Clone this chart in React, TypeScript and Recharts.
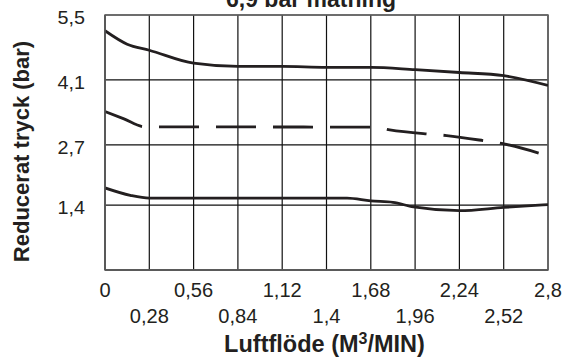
import { LineChart, Line, XAxis, YAxis, CartesianGrid, ReferenceArea } from "recharts";

const xTicks = [0, 0.28, 0.56, 0.84, 1.12, 1.4, 1.68, 1.96, 2.24, 2.52, 2.8];
const yTicks = [1.4, 2.7, 4.1, 5.5];

// upper curve (solid)
const upperFlow = [0, 0.14, 0.28, 0.56, 0.84, 1.12, 1.4, 1.68, 1.96, 2.24, 2.52, 2.8];
const upperPressure = [5.16, 4.87, 4.74, 4.46, 4.39, 4.39, 4.37, 4.37, 4.32, 4.26, 4.19, 3.98];

// middle curve (dashed)
const middleFlow = [0, 0.12, 0.25, 1.7, 1.8, 2.05, 2.16, 2.41, 2.52, 2.8];
const middlePressure = [3.42, 3.26, 3.09, 3.08, 3.02, 2.93, 2.9, 2.78, 2.72, 2.46];

// lower curve (solid)
const lowerFlow = [0, 0.16, 0.28, 1.53, 1.68, 1.82, 1.95, 2.24, 2.52, 2.8];
const lowerPressure = [1.77, 1.61, 1.55, 1.55, 1.49, 1.46, 1.36, 1.28, 1.35, 1.41];

const toRows = (xs: number[], ys: number[]) => xs.map((x, i) => ({ flow: x, p: ys[i] }));

const INK = "#231f20";
const FONT = "'Liberation Sans', Arial, Helvetica, sans-serif";
const fmt = (v: number) => String(v).replace(".", ",");

function XTick({ x, y, payload }: any) {
  const row = xTicks.indexOf(payload.value) % 2;
  return (
    <text
      transform={`translate(${x},${y + (row ? 53 : 27)}) scale(1.03,1)`}
      textAnchor="middle"
      fill={INK}
      fontSize={19.5}
      fontFamily={FONT}
    >
      {fmt(payload.value)}
    </text>
  );
}

function YTick({ x, y, payload }: any) {
  return (
    <text
      transform={`translate(${x},${y + 9}) scale(1.04,1)`}
      textAnchor="end"
      fill={INK}
      fontSize={19}
      fontFamily={FONT}
    >
      {fmt(payload.value)}
    </text>
  );
}

function XLabel({ viewBox }: any) {
  const cx = viewBox.x + viewBox.width / 2 - 2;
  return (
    <text x={cx} y={viewBox.y + 82} textAnchor="middle" fill={INK} fontSize={23.5} fontWeight="bold" fontFamily={FONT}>
      Luftflöde (M<tspan dy={-8} fontSize={16}>3</tspan>
      <tspan dy={8}>/MIN)</tspan>
    </text>
  );
}

function YLabel({ viewBox }: any) {
  const cx = viewBox.x + 29;
  const cy = viewBox.y + viewBox.height / 2 + 9;
  return (
    <text
      x={cx}
      y={cy}
      transform={`rotate(-90, ${cx}, ${cy})`}
      textAnchor="middle"
      fill={INK}
      fontSize={22}
      fontWeight="bold"
      fontFamily={FONT}
    >
      Reducerat tryck (bar)
    </text>
  );
}

export default function App() {
  return (
    <div style={{ position: "absolute", left: 0, top: 0, width: 568, height: 360, background: "#fff" }}>
      <LineChart width={568} height={360} margin={{ top: 15, right: 20, bottom: 0, left: 0 }}>
        <CartesianGrid stroke="#111" strokeWidth={1.2} />
        <XAxis
          type="number"
          dataKey="flow"
          domain={[0, 2.8]}
          ticks={xTicks}
          interval={0}
          height={90}
          tickSize={0}
          tickMargin={0}
          tickLine={false}
          axisLine={{ stroke: "#555", strokeWidth: 1.5 }}
          tick={<XTick />}
          label={<XLabel />}
          allowDataOverflow
        />
        <YAxis
          type="number"
          domain={[0, 5.5]}
          ticks={yTicks}
          interval={0}
          width={105}
          tickSize={0}
          tickMargin={20}
          tickLine={false}
          axisLine={{ stroke: "#555", strokeWidth: 1.5 }}
          tick={<YTick />}
          label={<YLabel />}
          allowDataOverflow
        />
        <ReferenceArea x1={0} x2={2.8} y1={0} y2={5.5} fill="none" stroke="#666" strokeWidth={1.5} />
        <Line
          data={toRows(upperFlow, upperPressure)}
          dataKey="p"
          type="monotone"
          stroke={INK}
          strokeWidth={2.8}
          dot={false}
          isAnimationActive={false}
        />
        <Line
          data={toRows(middleFlow, middlePressure)}
          dataKey="p"
          type="monotone"
          stroke={INK}
          strokeWidth={2.8}
          strokeDasharray="40 17"
          dot={false}
          isAnimationActive={false}
        />
        <Line
          data={toRows(lowerFlow, lowerPressure)}
          dataKey="p"
          type="monotone"
          stroke={INK}
          strokeWidth={2.8}
          dot={false}
          isAnimationActive={false}
        />
      </LineChart>
      <svg width={568} height={360} style={{ position: "absolute", left: 0, top: 0, pointerEvents: "none" }}>
        <text x={311} y={6.5} textAnchor="middle" fill={INK} fontSize={23} fontWeight="bold" fontFamily={FONT}>
          6,9 bar matning
        </text>
      </svg>
    </div>
  );
}
